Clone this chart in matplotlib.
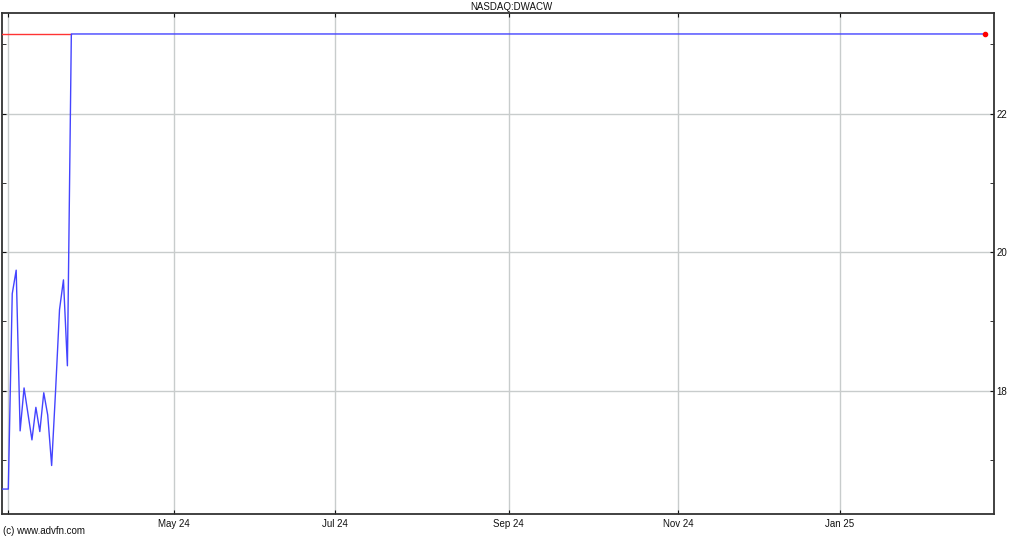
import numpy as np
import pandas as pd
import matplotlib
matplotlib.use('Agg')
import matplotlib.pyplot as plt
from matplotlib.ticker import FixedLocator

plt.rcParams['font.family'] = ['Liberation Sans', 'DejaVu Sans']

# US market holidays inside the window
holidays = ['2024-03-29', '2024-05-27', '2024-06-19', '2024-07-04', '2024-09-02',
            '2024-11-28', '2024-12-25', '2025-01-01', '2025-01-09', '2025-01-20',
            '2025-02-17']
dates = pd.bdate_range('2024-02-28', '2025-02-27', freq='C', holidays=holidays)

# daily closes 28 Feb .. 22 Mar 2024, then flat
early = [16.58, 16.58, 16.58, 19.40, 19.74, 17.42, 18.04, 17.67, 17.29, 17.76,
         17.41, 17.97, 17.65, 16.92, 18.00, 19.17, 19.60, 18.36]
last_close = 23.15
prices = early + [last_close] * (len(dates) - len(early))

tick_months = ['2024-03-01', '2024-05-01', '2024-07-01', '2024-09-01', '2024-11-01', '2025-01-01']
tick_labels = ['', 'May 24', 'Jul 24', 'Sep 24', 'Nov 24', 'Jan 25']

x = np.arange(len(dates))
tick_pos = [int(np.searchsorted(dates, pd.Timestamp(m))) for m in tick_months]

fig = plt.figure(figsize=(10.24, 5.38), dpi=100)
ax = fig.add_axes([2/1024, 24/538, 992/1024, 501.5/538])

x0 = tick_pos[0] - 1.6
x1 = tick_pos[0] + 250.2
ax.set_xlim(x0, x1)
ax.set_ylim(16.22, 23.46)

ax.plot([x0, x[len(early)]], [last_close, last_close], color='#ff3333', lw=1, zorder=3)
ax.plot(x, prices, color='#4444ff', lw=1, zorder=4)
ax.plot(x[-1], prices[-1], 'o', color='#ff0000', ms=3, zorder=5)

ax.set_xticks(tick_pos)
ax.set_xticklabels(tick_labels)
ax.set_yticks([18, 20, 22])
ax.yaxis.set_minor_locator(FixedLocator([17, 19, 21, 23]))

ax.grid(True, which='major', color='#c8cccc', lw=1, ls='-')
ax.set_axisbelow(True)

ax.tick_params(axis='x', direction='in', length=3, top=True, bottom=True,
               labelsize=7, pad=3.5, colors='#111111')
ax.tick_params(axis='y', which='both', direction='in', length=3, left=True, right=True,
               labelleft=False, labelright=True, labelsize=7, pad=2, colors='#111111')
for s in ax.spines.values():
    s.set_color('#333333')
    s.set_linewidth(1.3)

fig.text(511/1024, 1 - 7/538, 'NASDAQ:DWACW', ha='center', va='center', fontsize=7, color='#111111')
fig.text(3/1024, 1 - 531/538, '(c) www.advfn.com', ha='left', va='center', fontsize=7, color='#111111')

fig.savefig('out.png', dpi=100)
